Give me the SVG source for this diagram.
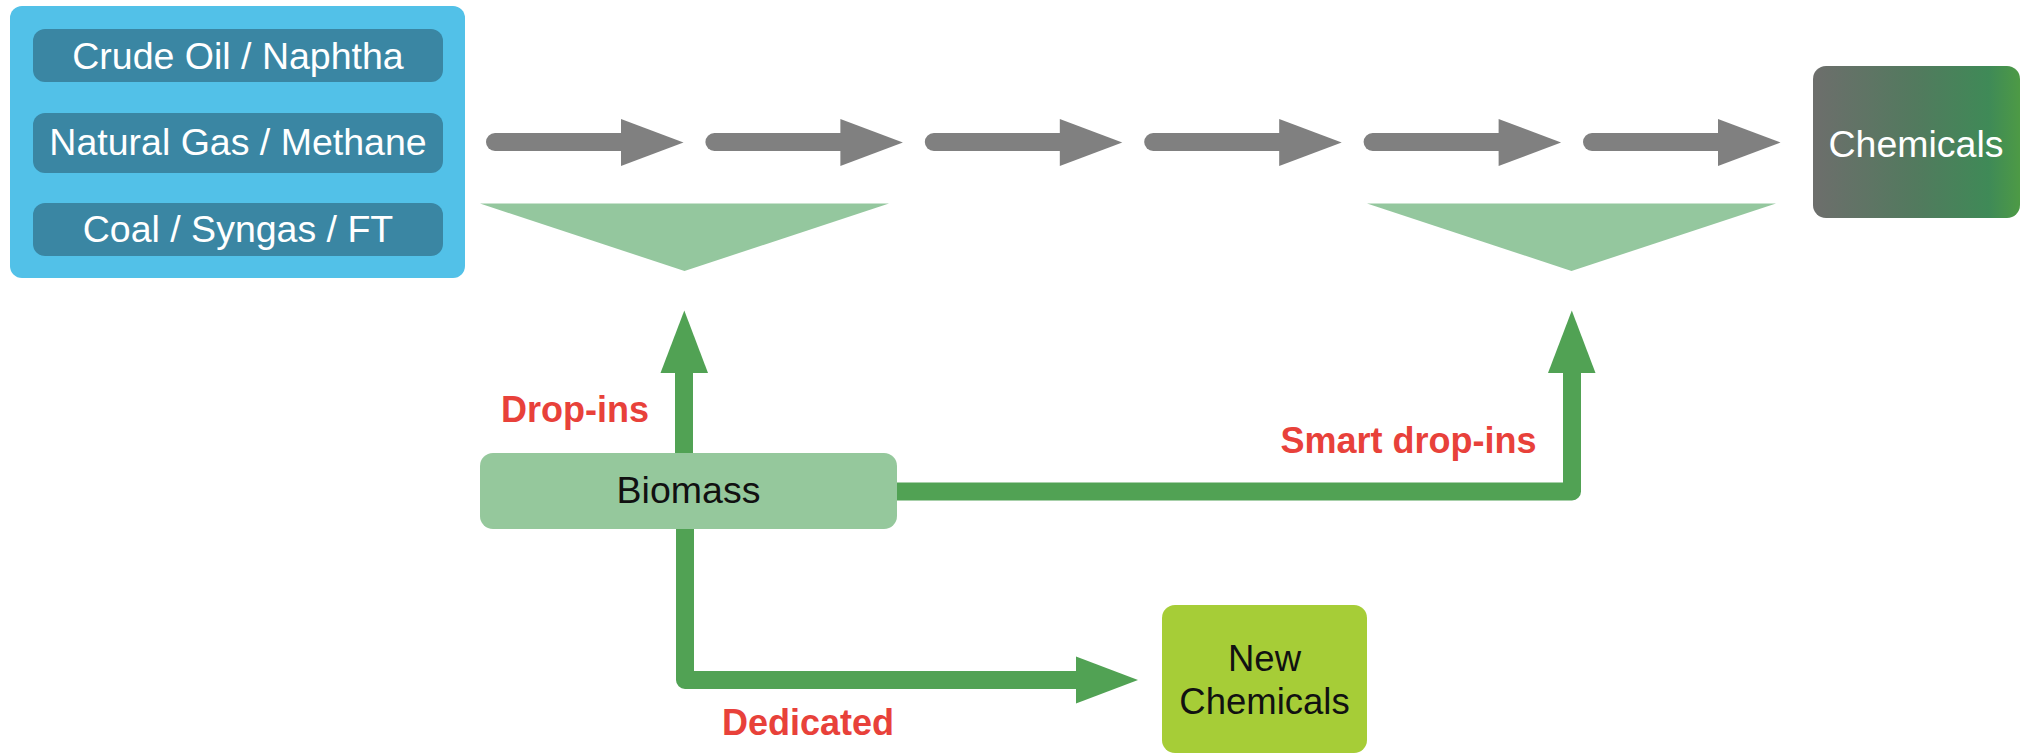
<svg xmlns="http://www.w3.org/2000/svg" width="2024" height="755" viewBox="0 0 2024 755">
<style>
  .t { font-family: "Liberation Sans", Arial, sans-serif; font-size: 37.5px; text-anchor: middle; }
  .w { fill: #ffffff; }
  .k { fill: #111111; }
  .lbl { font-family: "Liberation Sans", Arial, sans-serif; font-size: 36px; font-weight: bold; fill: #e8413a; text-anchor: middle; }
  .src { fill: #3a86a3; }
  .gshaft { stroke: #808080; stroke-width: 18; stroke-linecap: round; fill: none; }
  .ghead { fill: #808080; }
  .tri { fill: #94c79e; }
  .green { stroke: #51a254; stroke-width: 18; fill: none; stroke-linejoin: round; }
  .ghd { fill: #51a254; }
</style>
<defs>
  <linearGradient id="chemGrad" x1="0" y1="0" x2="1" y2="0">
    <stop offset="0" stop-color="#6d6e6c"/>
    <stop offset="0.5" stop-color="#527a5e"/>
    <stop offset="0.85" stop-color="#3f8a57"/>
    <stop offset="1" stop-color="#4d9a45"/>
  </linearGradient>
</defs>

<g id="sources">
  <rect x="10" y="6" width="455" height="272" rx="12" fill="#52c1e8"/>
  <g id="crude-oil">
    <rect class="src" x="33" y="29" width="410" height="53" rx="12"/>
    <text class="t w" x="238" y="69">Crude Oil / Naphtha</text>
  </g>
  <g id="natural-gas">
    <rect class="src" x="33" y="113" width="410" height="60" rx="12"/>
    <text class="t w" x="238" y="155">Natural Gas / Methane</text>
  </g>
  <g id="coal">
    <rect class="src" x="33" y="203" width="410" height="53" rx="12"/>
    <text class="t w" x="238" y="242">Coal / Syngas / FT</text>
  </g>
</g>

<g id="process-arrows">
  <g transform="translate(0,0)">
    <line class="gshaft" x1="495" y1="142" x2="625" y2="142"/>
    <polygon class="ghead" points="621,119 683.5,142.5 621,166"/>
  </g>
  <g transform="translate(219.4,0)">
    <line class="gshaft" x1="495" y1="142" x2="625" y2="142"/>
    <polygon class="ghead" points="621,119 683.5,142.5 621,166"/>
  </g>
  <g transform="translate(438.8,0)">
    <line class="gshaft" x1="495" y1="142" x2="625" y2="142"/>
    <polygon class="ghead" points="621,119 683.5,142.5 621,166"/>
  </g>
  <g transform="translate(658.2,0)">
    <line class="gshaft" x1="495" y1="142" x2="625" y2="142"/>
    <polygon class="ghead" points="621,119 683.5,142.5 621,166"/>
  </g>
  <g transform="translate(877.6,0)">
    <line class="gshaft" x1="495" y1="142" x2="625" y2="142"/>
    <polygon class="ghead" points="621,119 683.5,142.5 621,166"/>
  </g>
  <g transform="translate(1097,0)">
    <line class="gshaft" x1="495" y1="142" x2="625" y2="142"/>
    <polygon class="ghead" points="621,119 683.5,142.5 621,166"/>
  </g>
</g>

<g id="entry-points">
  <polygon class="tri" points="480,203.5 889,203.5 684.5,271"/>
  <polygon class="tri" points="1367,203.5 1776,203.5 1571.5,271"/>
</g>

<g id="connectors">
  <line class="green" x1="684" y1="470" x2="684" y2="370"/>
  <polygon class="ghd" points="660.5,373 708,373 684.3,310.5"/>
  <path class="green" d="M880,491.5 H1572 V370"/>
  <polygon class="ghd" points="1548,373 1595.5,373 1571.8,310.5"/>
  <path class="green" d="M685,515 V680 H1080"/>
  <polygon class="ghd" points="1076,656.5 1138,680 1076,703.5"/>
</g>

<g id="labels">
  <text class="lbl" x="575" y="421.5">Drop-ins</text>
  <text class="lbl" x="1408.5" y="452.5">Smart drop-ins</text>
  <text class="lbl" x="808" y="735">Dedicated</text>
</g>

<g id="chemicals">
  <rect x="1813" y="66" width="207" height="152" rx="13" fill="url(#chemGrad)"/>
  <text class="t w" x="1916" y="157">Chemicals</text>
</g>

<g id="biomass">
  <rect x="480" y="453" width="417" height="76" rx="13" fill="#95c89c"/>
  <text class="t k" x="688.5" y="503">Biomass</text>
</g>

<g id="new-chemicals">
  <rect x="1162" y="605" width="205" height="148" rx="13" fill="#a6cd37"/>
  <text class="t k" x="1264.5" y="671" style="font-size:36.5px">New</text>
  <text class="t k" x="1264.5" y="713.5" style="font-size:36.5px">Chemicals</text>
</g>
</svg>
